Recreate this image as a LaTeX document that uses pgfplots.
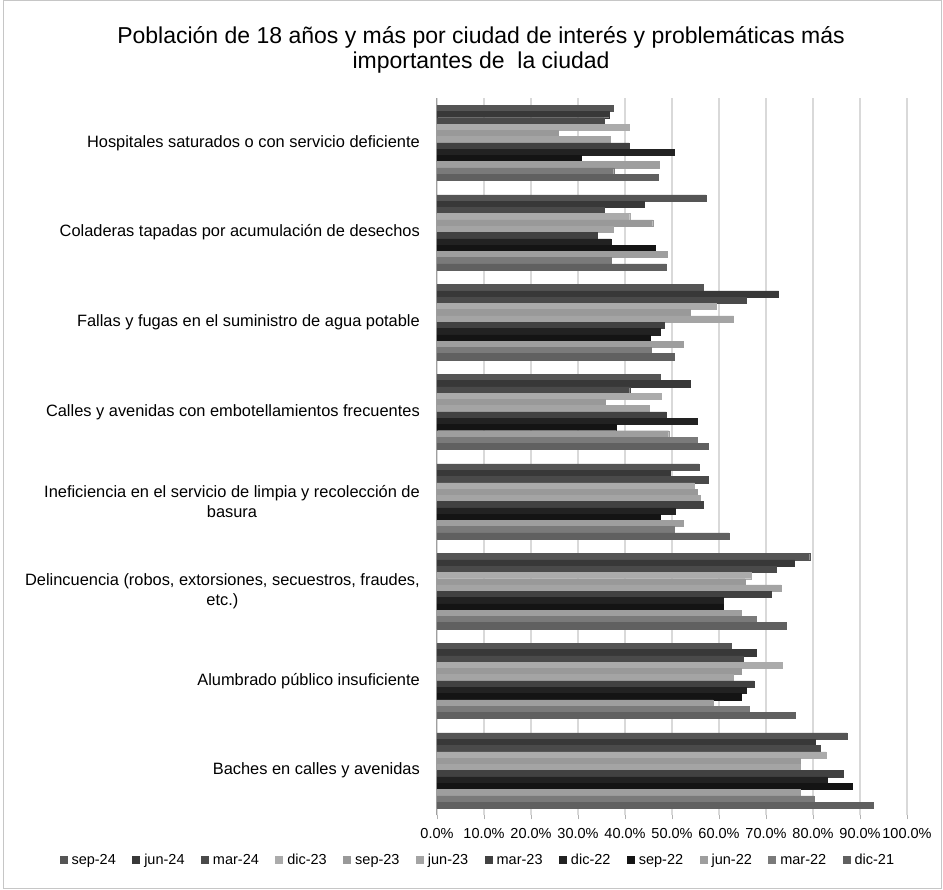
\documentclass[border=0pt]{standalone}
\usepackage{pgfplots}
\pgfplotsset{compat=1.18}
\usepackage{fontspec}
\setmainfont{Liberation Sans}
\definecolor{cA}{HTML}{555555}
\definecolor{cB}{HTML}{383838}
\definecolor{cC}{HTML}{4A4A4A}
\definecolor{cD}{HTML}{ABABAB}
\definecolor{cE}{HTML}{999999}
\definecolor{cF}{HTML}{A4A4A4}
\definecolor{cG}{HTML}{414141}
\definecolor{cH}{HTML}{222222}
\definecolor{cI}{HTML}{141414}
\definecolor{cJ}{HTML}{9E9E9E}
\definecolor{cK}{HTML}{7A7A7A}
\definecolor{cL}{HTML}{606060}
\begin{document}
\begin{tikzpicture}
\useasboundingbox (0pt,0pt) rectangle (943pt,890pt);
\fill[white] (0pt,0pt) rectangle (943pt,890pt);
\draw[gray!45, line width=1pt] (3pt,1pt) rectangle (941pt,889pt);
\node[align=center, font=\fontsize{23}{25.5}\selectfont] at (481pt,840pt)
  {Población de 18 años y más por ciudad de interés y problemáticas más\\importantes de\ \ la ciudad};
\begin{axis}[
  at={(437pt,74.5pt)}, anchor=south west,
  width=470pt, height=717.5pt, scale only axis,
  xmin=0, xmax=100, ymin=-0.5, ymax=7.5,
  xbar, bar width=0.07,
  xtick={0,10,...,100},
  xticklabels={0.0\%,10.0\%,20.0\%,30.0\%,40.0\%,50.0\%,60.0\%,70.0\%,80.0\%,90.0\%,100.0\%},
  ytick={0,...,7},
  yticklabels={Baches en calles y avenidas,
    Alumbrado público insuficiente,
    {Delincuencia (robos, extorsiones, secuestros, fraudes,\\etc.)},
    {Ineficiencia en el servicio de limpia y recolección de\\basura},
    Calles y avenidas con embotellamientos frecuentes,
    Fallas y fugas en el suministro de agua potable,
    Coladeras tapadas por acumulación de desechos,
    Hospitales saturados o con servicio deficiente},
  yticklabel style={font=\fontsize{16.4}{20.5}\selectfont, align=center, inner sep=0pt, xshift=-13pt},
  xticklabel style={font=\fontsize{14.5}{17}\selectfont, inner sep=0pt, yshift=-9pt},
  axis x line*=bottom, axis y line*=left,
  x axis line style={draw=none},
  y axis line style={draw=gray!75, line width=1pt},
  ytick style={draw=none},
  xtick style={draw=gray!60, line width=0.8pt},
  tick align=outside, major tick length=4pt,
  xmajorgrids, grid style={draw=gray!30, line width=1.3pt},
  legend image code/.code={\fill[#1] (0pt,-3.5pt) rectangle (7pt,3.5pt);},
  legend style={draw=none, fill=none, legend columns=12, at={(0.087,-0.062)}, anchor=center,
    font=\fontsize{14.5}{17}\selectfont,
    /tikz/every odd column/.append style={column sep=2.5pt},
    /tikz/every even column/.append style={column sep=14.5pt}},
  legend cell align=left,
]
\addplot[bar shift=0.385, fill=cA, draw=cA] coordinates {(87.2,0)(62.6,1)(79.3,2)(55.7,3)(47.4,4)(56.6,5)(57.2,6)(37.5,7)};
\addplot[bar shift=0.315, fill=cB, draw=cB] coordinates {(80.5,0)(67.9,1)(76.1,2)(49.7,3)(53.9,4)(72.7,5)(44.1,6)(36.6,7)};
\addplot[bar shift=0.245, fill=cC, draw=cC] coordinates {(81.6,0)(65.1,1)(72.2,2)(57.7,3)(41.0,4)(65.7,5)(35.6,6)(35.5,7)};
\addplot[bar shift=0.175, fill=cD, draw=cD] coordinates {(82.8,0)(73.4,1)(66.9,2)(54.8,3)(47.8,4)(59.5,5)(41.0,6)(40.8,7)};
\addplot[bar shift=0.105, fill=cE, draw=cE] coordinates {(77.3,0)(64.7,1)(65.5,2)(55.3,3)(35.7,4)(53.8,5)(45.9,6)(25.8,7)};
\addplot[bar shift=0.035, fill=cF, draw=cF] coordinates {(77.3,0)(63.1,1)(73.2,2)(56.0,3)(45.1,4)(63.1,5)(37.4,6)(36.8,7)};
\addplot[bar shift=-0.035, fill=cG, draw=cG] coordinates {(86.5,0)(67.4,1)(71.1,2)(56.6,3)(48.8,4)(48.3,5)(34.0,6)(40.9,7)};
\addplot[bar shift=-0.105, fill=cH, draw=cH] coordinates {(83.1,0)(65.7,1)(60.9,2)(50.6,3)(55.4,4)(47.4,5)(37.0,6)(50.4,7)};
\addplot[bar shift=-0.175, fill=cI, draw=cI] coordinates {(88.3,0)(64.7,1)(60.9,2)(47.4,3)(38.2,4)(45.4,5)(46.4,6)(30.6,7)};
\addplot[bar shift=-0.245, fill=cJ, draw=cJ] coordinates {(77.3,0)(58.7,1)(64.7,2)(52.4,3)(49.3,4)(52.4,5)(49.0,6)(47.3,7)};
\addplot[bar shift=-0.315, fill=cK, draw=cK] coordinates {(80.2,0)(66.5,1)(67.9,2)(50.4,3)(55.4,4)(45.6,5)(37.0,6)(37.6,7)};
\addplot[bar shift=-0.385, fill=cL, draw=cL] coordinates {(92.9,0)(76.3,1)(74.3,2)(62.1,3)(57.7,4)(50.4,5)(48.8,6)(47.0,7)};
\legend{sep-24,jun-24,mar-24,dic-23,sep-23,jun-23,mar-23,dic-22,sep-22,jun-22,mar-22,dic-21}
\end{axis}
\end{tikzpicture}
\end{document}
